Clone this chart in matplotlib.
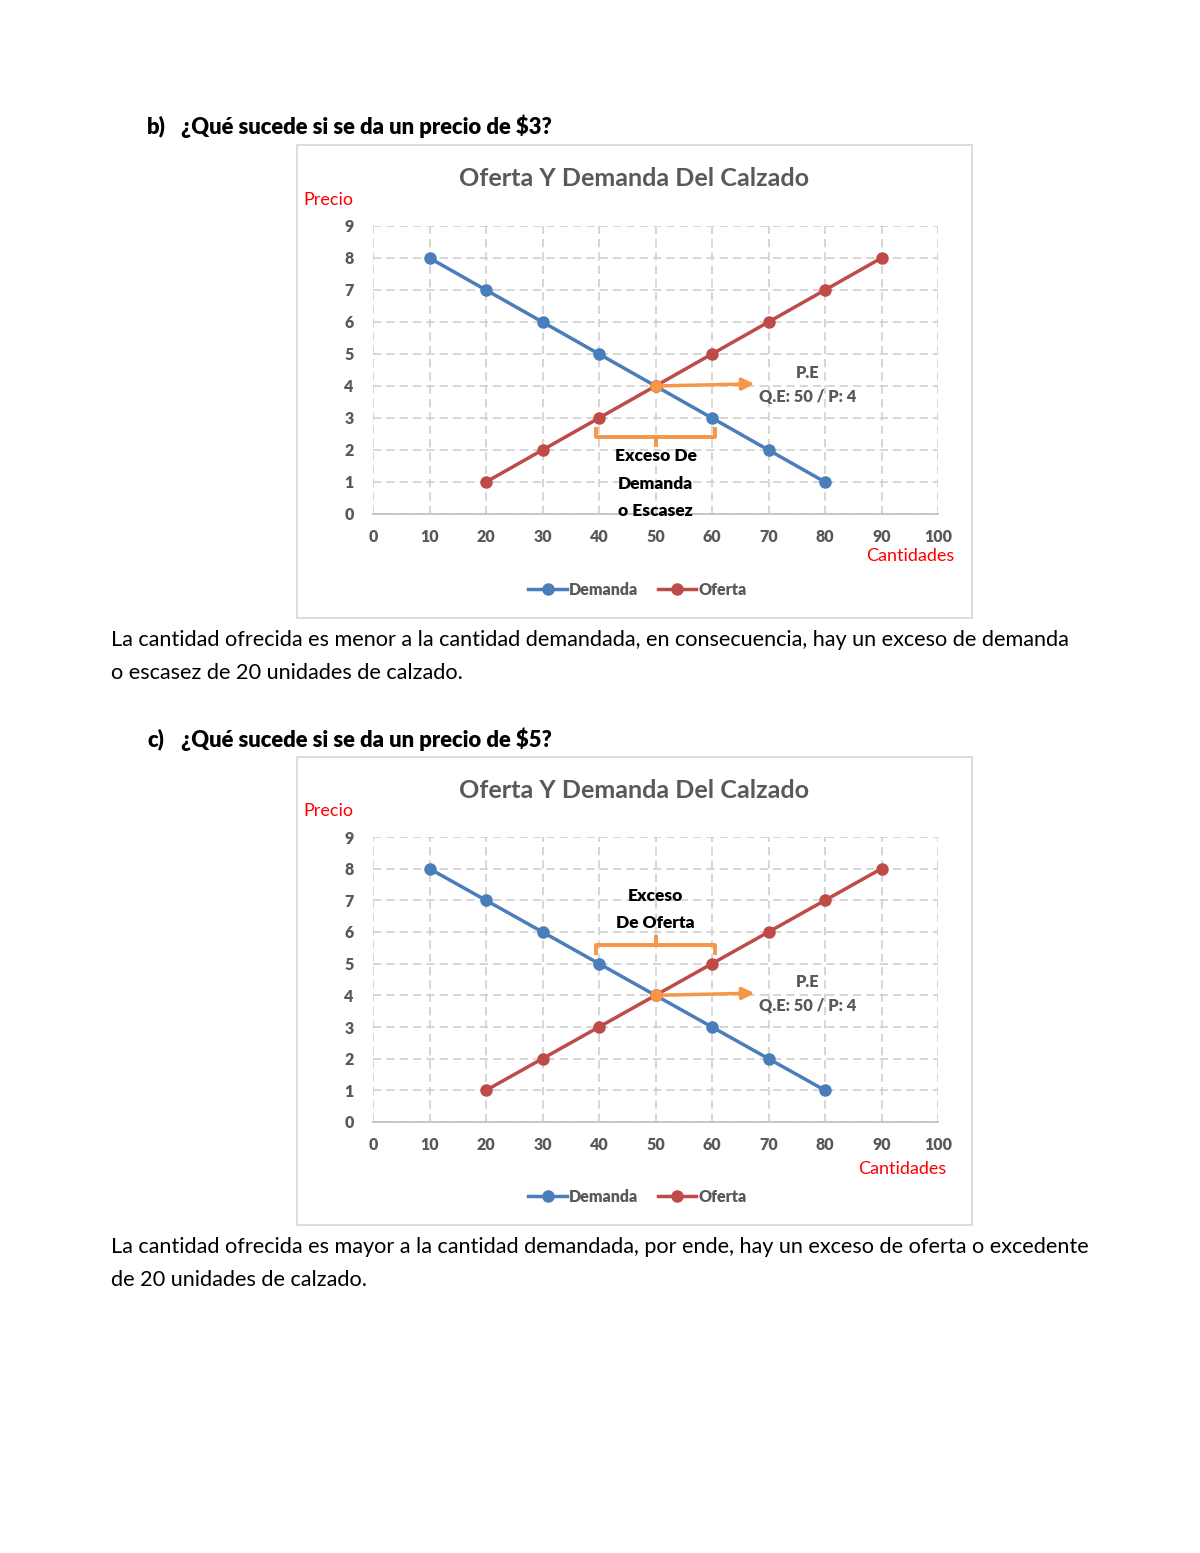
import matplotlib.pyplot as plt
from matplotlib.patches import Rectangle

plt.rcParams['font.family'] = ['Lato', 'DejaVu Sans']

# datos
cantidad_demanda = [10, 20, 30, 40, 50, 60, 70, 80]
precio_demanda = [8, 7, 6, 5, 4, 3, 2, 1]
cantidad_oferta = [20, 30, 40, 50, 60, 70, 80, 90]
precio_oferta = [1, 2, 3, 4, 5, 6, 7, 8]
q_equilibrio, p_equilibrio = 50, 4
x_ticks = [0, 10, 20, 30, 40, 50, 60, 70, 80, 90, 100]
y_ticks = [0, 1, 2, 3, 4, 5, 6, 7, 8, 9]

AZUL = '#4A7EBB'
ROJO = '#BE4B48'
NARANJA = '#F79646'
GRIS = '#595959'

W, H = 1200, 1553
fig = plt.figure(figsize=(12, 15.53), dpi=100)


def fx(px):
    return px / W


def fy(py):
    return 1 - py / H


def grafico(top_box, bot_box, ax_top, ax_bot, precio, texto_exceso, cant_y):
    fig.patches.append(Rectangle((fx(297), fy(bot_box)), fx(972) - fx(297), fy(top_box) - fy(bot_box),
                                 transform=fig.transFigure, fill=False, edgecolor='#D9D9D9', lw=1.3))
    fig.text(fx(634), fy(top_box + 33), 'Oferta Y Demanda Del Calzado', ha='center', va='center',
             fontsize=18.1, fontweight='bold', color=GRIS)
    ax = fig.add_axes([fx(373), fy(ax_bot), fx(938) - fx(373), fy(ax_top) - fy(ax_bot)])
    ax.plot(cantidad_demanda, precio_demanda, color=AZUL, lw=2.5, marker='o', ms=8, label='Demanda', zorder=3)
    ax.plot(cantidad_oferta, precio_oferta, color=ROJO, lw=2.5, marker='o', ms=8, label='Oferta', zorder=3)
    ax.set_xlim(0, 100)
    ax.set_ylim(0, 9)
    ax.set_xticks(x_ticks)
    ax.set_yticks(y_ticks)
    ax.grid(True, color='#D0D0D0', ls='--', lw=1.2, dashes=(5, 3))
    ax.set_axisbelow(True)
    for s in ['top', 'right', 'left']:
        ax.spines[s].set_visible(False)
    ax.spines['bottom'].set_color('#BFBFBF')
    ax.spines['bottom'].set_linewidth(1.2)
    ax.tick_params(axis='y', length=0, labelsize=11.5, labelcolor=GRIS, pad=14)
    ax.tick_params(axis='x', length=0, labelsize=11.5, labelcolor=GRIS, pad=11)
    for t in ax.get_xticklabels() + ax.get_yticklabels():
        t.set_fontweight('heavy')

    # punto de equilibrio
    ax.annotate('', xy=(68, p_equilibrio + 0.07), xytext=(q_equilibrio, p_equilibrio),
                arrowprops=dict(arrowstyle='-|>', color=NARANJA, lw=2.5, mutation_scale=18), zorder=4)
    ax.plot([q_equilibrio], [p_equilibrio], 'o', color=NARANJA, ms=8, zorder=5)
    ax.text(77, p_equilibrio + 0.03, 'P.E\nQ.E: 50 / P: 4', ha='center', va='center', fontsize=11.8,
            fontweight='heavy', color=GRIS, linespacing=1.6)

    # llave entre cantidad ofrecida y demandada
    q1 = cantidad_oferta[precio_oferta.index(precio)] if precio < p_equilibrio else cantidad_demanda[precio_demanda.index(precio)]
    q2 = cantidad_demanda[precio_demanda.index(precio)] if precio < p_equilibrio else cantidad_oferta[precio_oferta.index(precio)]
    a, b = q1 - 0.5, q2 + 0.5
    if precio < p_equilibrio:
        y0, y1, y2 = precio - 0.35, precio - 0.6, precio - 0.85
        ty = [y1 - 0.58, y1 - 1.45, y1 - 2.32]
    else:
        y0, y1, y2 = precio + 0.35, precio + 0.6, precio + 0.85
        ty = [y1 + 1.55, y1 + 0.68]
    ax.plot([a, a, b, b], [y0, y1, y1, y0], color=NARANJA, lw=2.8, solid_joinstyle='round', zorder=4)
    ax.plot([(a + b) / 2] * 2, [y1, y2], color=NARANJA, lw=2.8, zorder=4)
    for linea, yy in zip(texto_exceso, ty):
        ax.text((a + b) / 2, yy, linea, ha='center', va='center', fontsize=12.5, fontweight='heavy',
                color='black', clip_on=False)

    fig.text(fx(328), fy(ax_top - 26), 'Precio', ha='center', va='center', fontsize=13, color='red')
    fig.text(cant_y[0], cant_y[1], 'Cantidades', ha='center', va='center', fontsize=13, color='red')
    ax.legend(loc='center', bbox_to_anchor=(0.468, (ax_bot - bot_box + 28) / (ax_bot - ax_top)),
              ncol=2, frameon=False, labelcolor=GRIS, handlelength=2.4, handletextpad=0.15,
              columnspacing=1.2, prop={'weight': 'heavy', 'size': 11.5})
    return ax


cuerpo = dict(fontsize=15.6, color='black', va='center', ha='left')
titulo = dict(fontsize=15.8, fontweight='heavy', va='center')

fig.text(fx(147), fy(126), 'b)', **titulo)
fig.text(fx(181), fy(126), '¿Qué sucede si se da un precio de $3?', **titulo)
grafico(145, 618, 226, 514, 3, ['Exceso De', 'Demanda', 'o Escasez'], (fx(910), fy(556)))
fig.text(fx(111), fy(640), 'La cantidad ofrecida es menor a la cantidad demandada, en consecuencia, hay un exceso de demanda', **cuerpo)
fig.text(fx(111), fy(673), 'o escasez de 20 unidades de calzado.', **cuerpo)

fig.text(fx(147), fy(739), 'c)', **titulo)
fig.text(fx(181), fy(739), '¿Qué sucede si se da un precio de $5?', **titulo)
grafico(757, 1225, 837, 1122, 5, ['Exceso', 'De Oferta'], (fx(902), fy(1169)))
fig.text(fx(111), fy(1247), 'La cantidad ofrecida es mayor a la cantidad demandada, por ende, hay un exceso de oferta o excedente', **cuerpo)
fig.text(fx(111), fy(1280), 'de 20 unidades de calzado.', **cuerpo)

fig.savefig('out.png', dpi=100)
